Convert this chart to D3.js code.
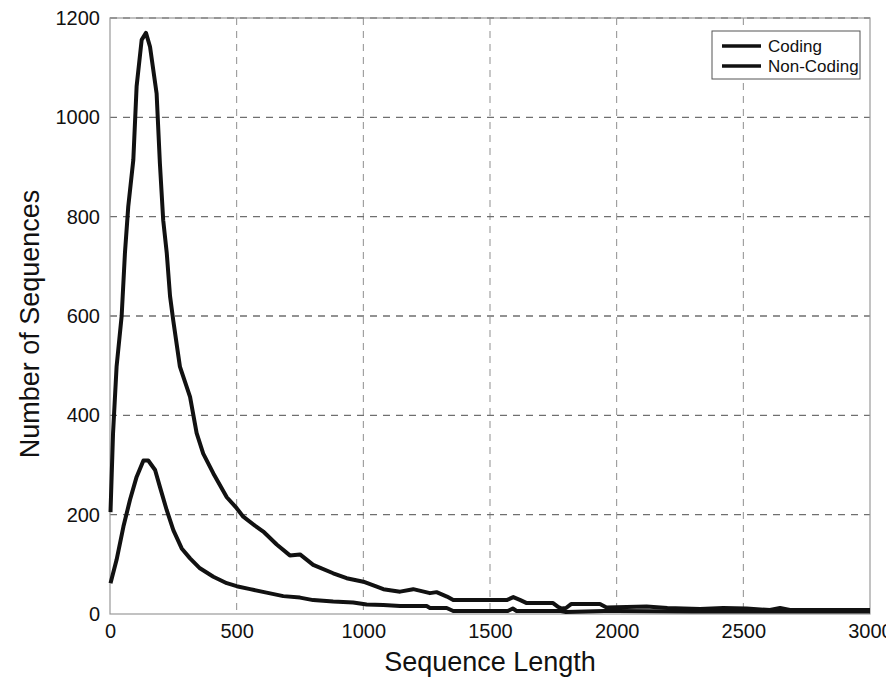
<!DOCTYPE html>
<html>
<head>
<meta charset="utf-8">
<script src="https://cdn.jsdelivr.net/npm/d3@7"></script>
<style>
  html, body { margin: 0; padding: 0; background: #fff; }
  svg { display: block; }
  text { font-family: "Liberation Sans", Arial, Helvetica, sans-serif; fill: #111; }
</style>
</head>
<body>
<svg id="chart" width="886" height="685"></svg>
<script>
// ---- data ----
const codingX = [2, 12, 26, 46, 59, 72, 92, 105, 125, 142, 158, 184, 197, 210, 224, 237, 250, 276, 316, 342, 368, 408, 461, 500, 526, 572, 605, 658, 710, 750, 802, 881, 934, 1000, 1053, 1079, 1145, 1197, 1263, 1289, 1330, 1355, 1566, 1592, 1620, 1645, 1749, 1770, 1783, 1800, 1820, 1934, 1960, 2118, 2200, 2329, 2421, 2513, 2605, 2645, 2684, 3000];
const codingY = [205, 364, 498, 600, 727, 820, 914, 1062, 1156, 1170, 1142, 1048, 907, 793, 727, 640, 590, 498, 437, 364, 323, 283, 235, 213, 196, 178, 166, 140, 118, 120, 99, 82, 72, 65, 55, 50, 45, 50, 42, 44, 35, 28, 28, 34, 28, 22, 22, 14, 11, 12, 20, 20, 13, 15, 12, 10, 12, 11, 8, 12, 8, 8];

const nonCodingX = [2, 26, 53, 79, 105, 132, 151, 178, 197, 224, 250, 283, 316, 355, 408, 461, 500, 553, 618, 684, 750, 802, 881, 960, 1013, 1079, 1145, 1250, 1263, 1329, 1355, 1570, 1590, 1605, 1780, 1800, 1950, 2000, 2300, 3000];
const nonCodingY = [62, 109, 176, 230, 276, 309, 309, 290, 256, 209, 169, 132, 112, 92, 75, 62, 56, 50, 43, 36, 33, 28, 25, 23, 19, 18, 16, 16, 12, 12, 6, 6, 11, 6, 6, 4, 6, 6, 5, 5];

const xTicks = [0, 500, 1000, 1500, 2000, 2500, 3000];
const yTicks = [0, 200, 400, 600, 800, 1000, 1200];
const seriesNames = ["Coding", "Non-Coding"];
const xLabel = "Sequence Length";
const yLabel = "Number of Sequences";

// ---- layout ----
const plotL = 110, plotR = 870, plotT = 18, plotB = 614;

const svg = d3.select("#chart");
const x = d3.scaleLinear().domain([0, 3000]).range([plotL, plotR]);
const y = d3.scaleLinear().domain([0, 1200]).range([plotB, plotT]);

// grid
const grid = svg.append("g");
grid.selectAll("line.gx").data(xTicks.slice(1, -1)).join("line")
  .attr("x1", d => x(d)).attr("x2", d => x(d))
  .attr("y1", y(1200)).attr("y2", y(0))
  .attr("stroke", "#8f8f8f").attr("stroke-width", 1).attr("stroke-dasharray", "7,6");
grid.selectAll("line.gy").data(yTicks.slice(1)).join("line")
  .attr("x1", x(0)).attr("x2", x(3000))
  .attr("y1", d => y(d)).attr("y2", d => y(d))
  .attr("stroke", "#6f6f6f").attr("stroke-width", 1.3).attr("stroke-dasharray", "7,6");

// frame
svg.append("rect")
  .attr("x", x(0)).attr("y", y(1200))
  .attr("width", x(3000) - x(0)).attr("height", y(0) - y(1200))
  .attr("fill", "none").attr("stroke", "#999").attr("stroke-width", 1.2);

// axes (labels only, MATLAB-like)
const xAxis = d3.axisBottom(x).tickValues(xTicks).tickSize(0).tickPadding(10).tickFormat(d3.format("d"));
const gx = svg.append("g").attr("transform", `translate(0,${plotB})`).call(xAxis);
gx.select(".domain").remove();
gx.selectAll("text").attr("font-size", 20).attr("fill", "#111").attr("font-family", "Liberation Sans, Arial, sans-serif");

const yAxis = d3.axisLeft(y).tickValues(yTicks).tickSize(0).tickPadding(10).tickFormat(d3.format("d"));
const gy = svg.append("g").attr("transform", `translate(${plotL},0)`).call(yAxis);
gy.select(".domain").remove();
gy.selectAll("text").attr("font-size", 20).attr("fill", "#111").attr("font-family", "Liberation Sans, Arial, sans-serif");

// series
const line = d3.line().x(d => x(d[0])).y(d => y(d[1]));
const coding = codingX.map((v, i) => [v, codingY[i]]);
const nonCoding = nonCodingX.map((v, i) => [v, nonCodingY[i]]);
svg.append("path").datum(nonCoding).attr("d", line)
  .attr("fill", "none").attr("stroke", "#111").attr("stroke-width", 4).attr("stroke-linejoin", "round");
svg.append("path").datum(coding).attr("d", line)
  .attr("fill", "none").attr("stroke", "#111").attr("stroke-width", 4).attr("stroke-linejoin", "round");

// axis titles
svg.append("text").attr("x", (x(0) + x(3000)) / 2).attr("y", 671)
  .attr("text-anchor", "middle").attr("font-size", 27).text(xLabel);
svg.append("text").attr("transform", `translate(39,${(y(0) + y(1200)) / 2 + 8}) rotate(-90)`)
  .attr("text-anchor", "middle").attr("font-size", 27).text(yLabel);

// legend
const lg = svg.append("g");
const lgX = 712, lgY = 31, lgW = 148, lgH = 48;
lg.append("rect").attr("x", lgX).attr("y", lgY).attr("width", lgW).attr("height", lgH)
  .attr("fill", "#fff").attr("stroke", "#555").attr("stroke-width", 1);
seriesNames.forEach((name, i) => {
  const cy = lgY + 15 + i * 20;
  lg.append("line").attr("x1", lgX + 10).attr("x2", lgX + 49).attr("y1", cy).attr("y2", cy)
    .attr("stroke", "#111").attr("stroke-width", 3.5);
  lg.append("text").attr("x", lgX + 56).attr("y", cy).attr("dy", "0.35em")
    .attr("font-size", 17).text(name);
});
</script>
</body>
</html>
